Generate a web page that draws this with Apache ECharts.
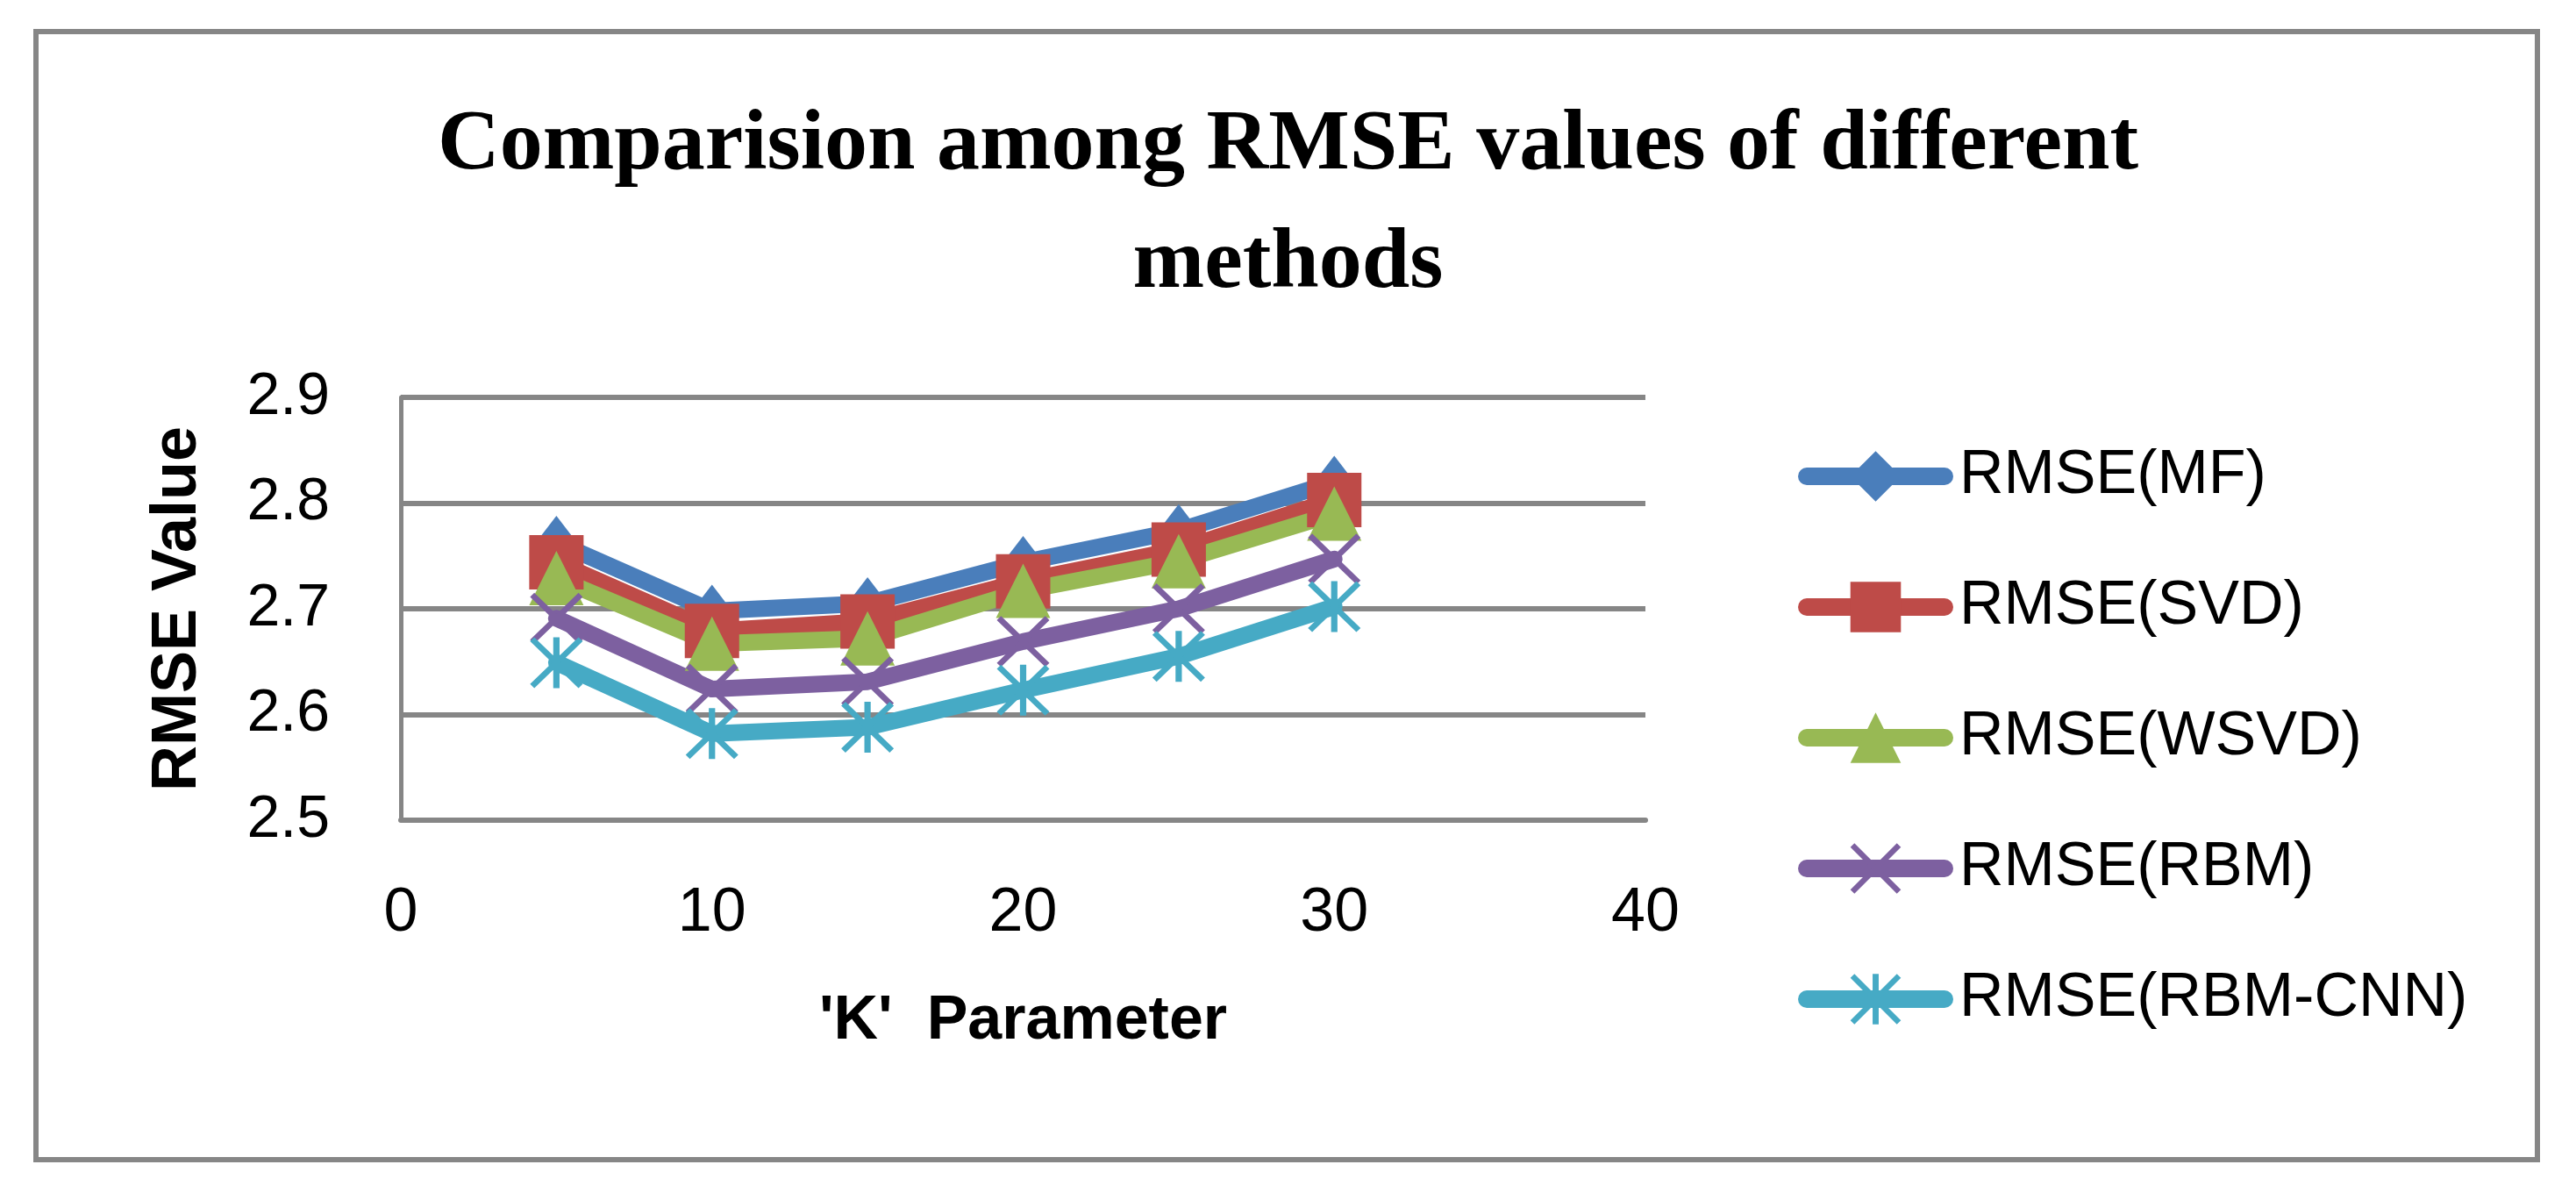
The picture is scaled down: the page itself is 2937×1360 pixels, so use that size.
<!DOCTYPE html>
<html>
<head>
<meta charset="utf-8">
<script src="https://cdn.jsdelivr.net/npm/echarts@6/dist/echarts.min.js"></script>
<style>
  html, body { margin: 0; padding: 0; background: #fff; }
  #main { width: 2937px; height: 1360px; }
</style>
</head>
<body>
<div id="main"></div>
<script>
var chartDom = document.getElementById('main');
var myChart = echarts.init(chartDom);

// K parameter values on the x axis
const kValues = [5, 10, 15, 20, 25, 30];
const seriesNames = ['RMSE(MF)', 'RMSE(SVD)', 'RMSE(WSVD)', 'RMSE(RBM)', 'RMSE(RBM-CNN)'];
const rmseMF = [2.763, 2.698, 2.705, 2.744, 2.774, 2.820];
const rmseSVD = [2.744, 2.679, 2.688, 2.726, 2.756, 2.803];
const rmseWSVD = [2.729, 2.667, 2.672, 2.717, 2.745, 2.790];
const rmseRBM = [2.691, 2.624, 2.631, 2.669, 2.700, 2.747];
const rmseRBMCNN = [2.649, 2.582, 2.588, 2.623, 2.655, 2.702];
const xTicks = [0, 10, 20, 30, 40];
const yTicks = [2.5, 2.6, 2.7, 2.8, 2.9];
const titleLines = ['Comparision among RMSE values of different', 'methods'];

const colors = ['#4A7EBB', '#BE4B48', '#98B954', '#7D60A0', '#46AAC5'];

// thin-stroke markers as filled paths
const xMark = 'path://M0,8L8,0L100,92L92,100ZM92,0L100,8L8,100L0,92Z';
const starMark = 'path://M0,8L8,0L100,92L92,100ZM92,0L100,8L8,100L0,92ZM44,0L56,0L56,100L44,100Z';

const symbols = ['diamond', 'rect', 'triangle', xMark, starMark];
const symbolSizes = [[46, 60], 62, 62, [60, 58], [60, 58]];
const allValues = [rmseMF, rmseSVD, rmseWSVD, rmseRBM, rmseRBMCNN];

const series = seriesNames.map((name, sid) => {
    return {
        name,
        type: 'line',
        data: kValues.map((k, i) => [k, allValues[sid][i]]),
        symbol: symbols[sid],
        symbolSize: symbolSizes[sid],
        showAllSymbol: true,
        color: colors[sid],
        lineStyle: { width: 19, color: colors[sid], cap: 'round', join: 'round' },
        itemStyle: { color: colors[sid] }
    };
});

const titleStyle = {
    fontFamily: 'Liberation Serif',
    fontWeight: 'bold',
    fontSize: 98,
    lineHeight: 135,
    color: '#000'
};

var option = {
    animation: false,
    backgroundColor: '#fff',
    title: titleLines.map((t, i) => ({
        text: t,
        left: 'center',
        top: 99 + i * 135,
        padding: 0,
        textStyle: titleStyle
    })),
    graphic: [{
        type: 'rect',
        shape: { x: 41, y: 36, width: 2852, height: 1286 },
        style: { fill: 'none', stroke: '#868686', lineWidth: 6 },
        silent: true,
        z: -1
    }],
    legend: {
        orient: 'vertical',
        left: 2050,
        top: 508,
        padding: 0,
        itemWidth: 157,
        itemHeight: 72,
        itemGap: 79,
        data: seriesNames,
        lineStyle: { width: 20, cap: 'round' },
        textStyle: {
            fontFamily: 'Liberation Sans',
            fontSize: 70,
            color: '#000',
            padding: [0, 0, 0, 12]
        }
    },
    grid: {
        left: 457,
        right: 1061,
        top: 453,
        bottom: 425
    },
    xAxis: {
        type: 'value',
        min: xTicks[0],
        max: xTicks[xTicks.length - 1],
        interval: 10,
        name: "'K'  Parameter",
        nameLocation: 'middle',
        nameGap: 195,
        nameTextStyle: {
            fontFamily: 'Liberation Sans',
            fontWeight: 'bold',
            fontSize: 70,
            color: '#000'
        },
        axisLine: { show: true, lineStyle: { color: '#868686', width: 6 } },
        axisTick: { show: false },
        splitLine: { show: false },
        axisLabel: {
            fontFamily: 'Liberation Sans',
            fontSize: 70,
            color: '#000',
            margin: 72
        }
    },
    yAxis: {
        type: 'value',
        min: yTicks[0],
        max: yTicks[yTicks.length - 1],
        interval: 0.1,
        name: 'RMSE Value',
        nameLocation: 'middle',
        nameGap: 218,
        nameTextStyle: {
            fontFamily: 'Liberation Sans',
            fontWeight: 'bold',
            fontSize: 72,
            color: '#000'
        },
        axisLine: { show: true, lineStyle: { color: '#868686', width: 5 } },
        axisTick: { show: false },
        splitLine: { show: true, lineStyle: { color: '#868686', width: 6 } },
        axisLabel: {
            fontFamily: 'Liberation Sans',
            fontSize: 68,
            color: '#000',
            margin: 81,
            formatter: (v) => v.toFixed(1)
        }
    },
    series
};

myChart.setOption(option);
</script>
</body>
</html>
